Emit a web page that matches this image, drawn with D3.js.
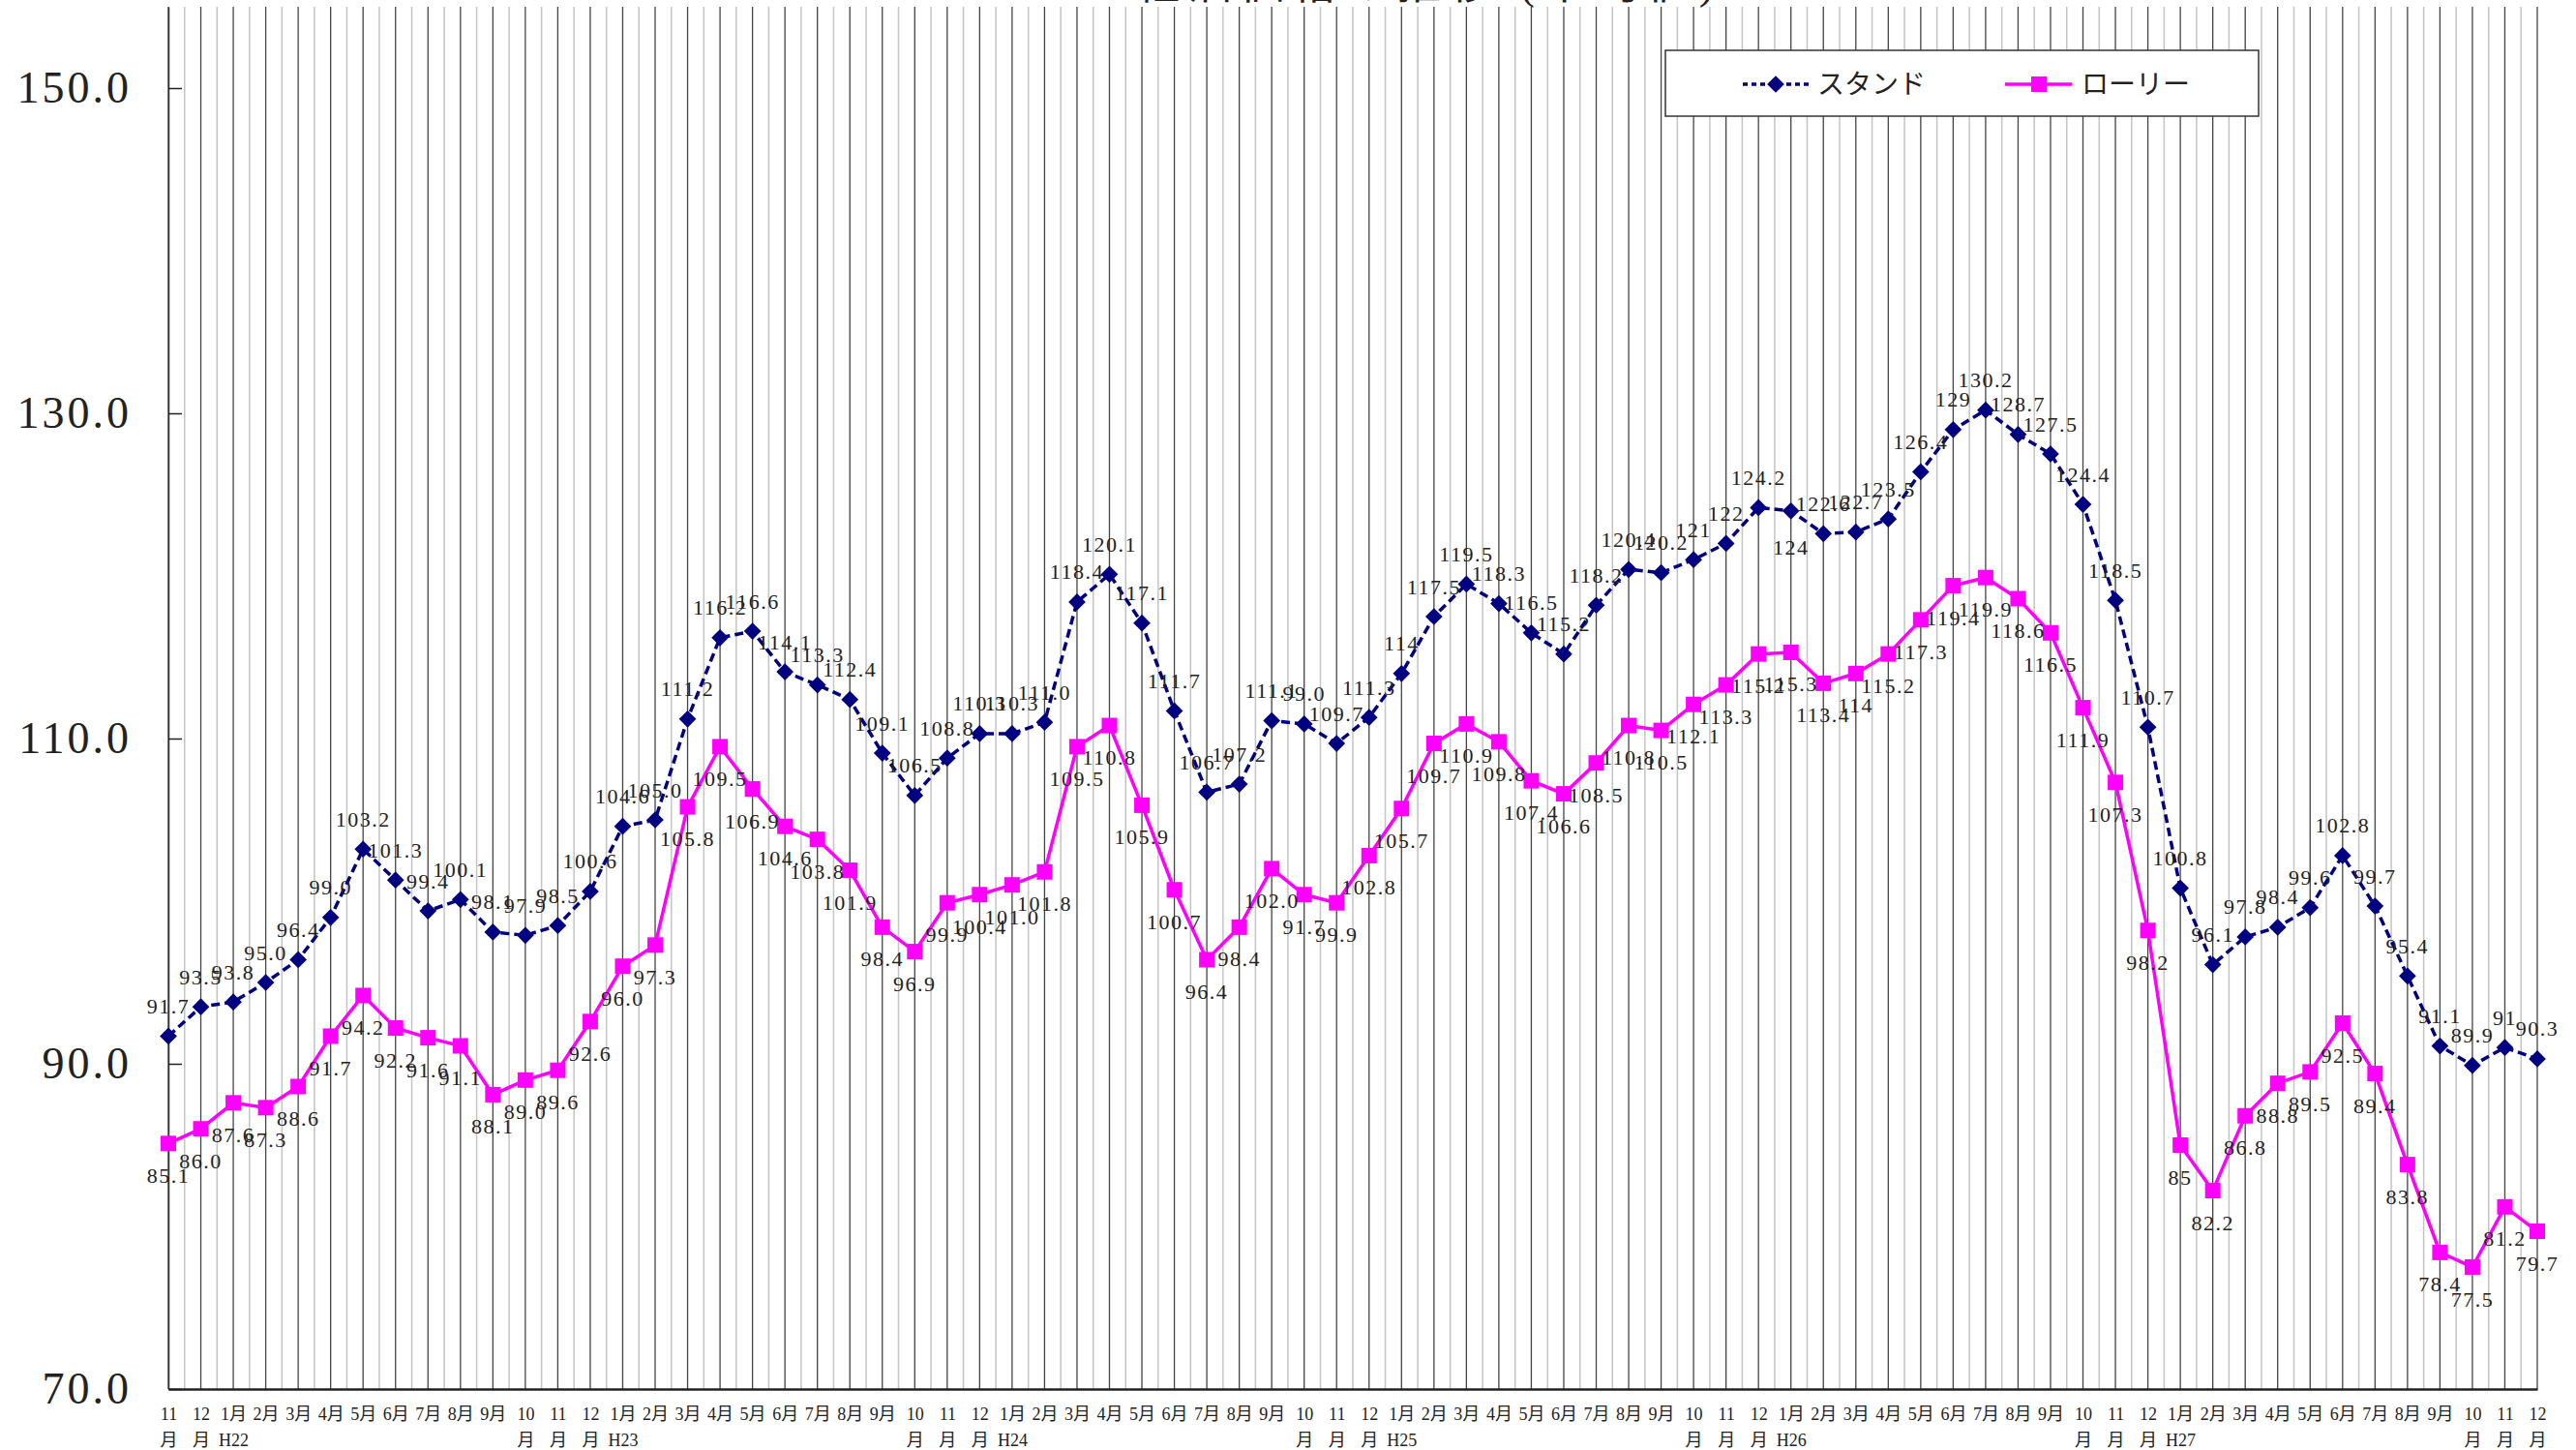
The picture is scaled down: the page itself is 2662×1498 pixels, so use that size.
<!DOCTYPE html>
<html>
<head>
<meta charset="utf-8">
<script src="https://cdn.jsdelivr.net/npm/d3@7"></script>
<style>
  html, body { margin: 0; padding: 0; background: #fff; }
  svg { display: block; }
  text { font-family: "Liberation Serif", "Noto Sans CJK JP", serif; fill: #222; }
</style>
</head>
<body>
<svg id="chart" width="2662" height="1498"></svg>
<script>
// categories (tick text, "\n" = second row)
var categories = [
    "11\n月", "12\n月",
    "1月\nH22", "2月", "3月", "4月", "5月", "6月", "7月", "8月", "9月", "10\n月", "11\n月", "12\n月",
    "1月\nH23", "2月", "3月", "4月", "5月", "6月", "7月", "8月", "9月", "10\n月", "11\n月", "12\n月",
    "1月\nH24", "2月", "3月", "4月", "5月", "6月", "7月", "8月", "9月", "10\n月", "11\n月", "12\n月",
    "1月\nH25", "2月", "3月", "4月", "5月", "6月", "7月", "8月", "9月", "10\n月", "11\n月", "12\n月",
    "1月\nH26", "2月", "3月", "4月", "5月", "6月", "7月", "8月", "9月", "10\n月", "11\n月", "12\n月",
    "1月\nH27", "2月", "3月", "4月", "5月", "6月", "7月", "8月", "9月", "10\n月", "11\n月", "12\n月"
];

var standValues = [
    91.7, 93.5,
    93.8, 95.0, 96.4, 99.0, 103.2, 101.3, 99.4, 100.1, 98.1, 97.9, 98.5, 100.6,
    104.6, 105.0, 111.2, 116.2, 116.6, 114.1, 113.3, 112.4, 109.1, 106.5, 108.8, 110.3,
    110.3, 111.0, 118.4, 120.1, 117.1, 111.7, 106.7, 107.2, 111.1, 110.9, 109.7, 111.3,
    114.0, 117.5, 119.5, 118.3, 116.5, 115.2, 118.2, 120.4, 120.2, 121.0, 122.0, 124.2,
    124.0, 122.6, 122.7, 123.5, 126.4, 129.0, 130.2, 128.7, 127.5, 124.4, 118.5, 110.7,
    100.8, 96.1, 97.8, 98.4, 99.6, 102.8, 99.7, 95.4, 91.1, 89.9, 91.0, 90.3
];
var standLabels = [
    "91.7", "93.5",
    "93.8", "95.0", "96.4", "99.0", "103.2", "101.3", "99.4", "100.1", "98.1", "97.9", "98.5", "100.6",
    "104.6", "105.0", "111.2", "116.2", "116.6", "114.1", "113.3", "112.4", "109.1", "106.5", "108.8", "110.3",
    "110.3", "111.0", "118.4", "120.1", "117.1", "111.7", "106.7", "107.2", "111.1", "99.0", "109.7", "111.3",
    "114", "117.5", "119.5", "118.3", "116.5", "115.2", "118.2", "120.4", "120.2", "121", "122", "124.2",
    "124", "122.6", "122.7", "123.5", "126.4", "129", "130.2", "128.7", "127.5", "124.4", "118.5", "110.7",
    "100.8", "96.1", "97.8", "98.4", "99.6", "102.8", "99.7", "95.4", "91.1", "89.9", "91", "90.3"
];

var lorryValues = [
    85.1, 86.0,
    87.6, 87.3, 88.6, 91.7, 94.2, 92.2, 91.6, 91.1, 88.1, 89.0, 89.6, 92.6,
    96.0, 97.3, 105.8, 109.5, 106.9, 104.6, 103.8, 101.9, 98.4, 96.9, 99.9, 100.4,
    101.0, 101.8, 109.5, 110.8, 105.9, 100.7, 96.4, 98.4, 102.0, 100.4, 99.9, 102.8,
    105.7, 109.7, 110.9, 109.8, 107.4, 106.6, 108.5, 110.8, 110.5, 112.1, 113.3, 115.2,
    115.3, 113.4, 114.0, 115.2, 117.3, 119.4, 119.9, 118.6, 116.5, 111.9, 107.3, 98.2,
    85.0, 82.2, 86.8, 88.8, 89.5, 92.5, 89.4, 83.8, 78.4, 77.5, 81.2, 79.7
];
var lorryLabels = [
    "85.1", "86.0",
    "87.6", "87.3", "88.6", "91.7", "94.2", "92.2", "91.6", "91.1", "88.1", "89.0", "89.6", "92.6",
    "96.0", "97.3", "105.8", "109.5", "106.9", "104.6", "103.8", "101.9", "98.4", "96.9", "99.9", "100.4",
    "101.0", "101.8", "109.5", "110.8", "105.9", "100.7", "96.4", "98.4", "102.0", "91.7", "99.9", "102.8",
    "105.7", "109.7", "110.9", "109.8", "107.4", "106.6", "108.5", "110.8", "110.5", "112.1", "113.3", "115.2",
    "115.3", "113.4", "114", "115.2", "117.3", "119.4", "119.9", "118.6", "116.5", "111.9", "107.3", "98.2",
    "85", "82.2", "86.8", "88.8", "89.5", "92.5", "89.4", "83.8", "78.4", "77.5", "81.2", "79.7"
];

var yTicks = [70, 90, 110, 130, 150];
var seriesNames = ["スタンド", "ローリー"];
var titleText = "軽油価格の推移 (平均値)";

var svg = d3.select('#chart');
var plotLeft = 174, plotRight = 2622, plotTop = 7, plotBottom = 1435;

var x = d3.scaleLinear().domain([0, categories.length - 1]).range([plotLeft, plotRight]);
var y = d3.scaleLinear().domain([70, 155]).range([plotBottom, plotTop]);

// title, cut off at top of the picture
svg.append('text')
    .attr('x', 1476).attr('y', -2)
    .attr('text-anchor', 'middle')
    .style('font-size', '46px')
    .style('letter-spacing', '8px')
    .text(titleText);

// minor gridlines between categories
var grid = svg.append('g');
grid.selectAll('line.minor')
    .data(d3.range(categories.length - 1))
    .enter().append('line')
    .attr('class', 'minor')
    .attr('x1', function (d) { return x(d + 0.5); })
    .attr('x2', function (d) { return x(d + 0.5); })
    .attr('y1', y(155)).attr('y2', y(70))
    .attr('stroke', '#c4c4c4').attr('stroke-width', 1.5);

// major gridlines at each category
grid.selectAll('line.major')
    .data(d3.range(categories.length))
    .enter().append('line')
    .attr('class', 'major')
    .attr('x1', function (d) { return x(d); })
    .attr('x2', function (d) { return x(d); })
    .attr('y1', y(155)).attr('y2', y(70))
    .attr('stroke', '#444').attr('stroke-width', 1.3);

// y axis
var yAxis = svg.append('g')
    .attr('transform', 'translate(' + plotLeft + ',0)')
    .call(d3.axisLeft(y).tickValues(yTicks).tickFormat(d3.format('.1f'))
        .tickSizeInner(-14).tickSizeOuter(0).tickPadding(38));
yAxis.select('.domain').attr('stroke', '#333').attr('stroke-width', 1.5);
yAxis.selectAll('.tick line').attr('stroke', '#222').attr('stroke-width', 1.5);
yAxis.selectAll('.tick text')
    .attr('fill', '#111')
    .style('font-family', '"Liberation Serif", serif')
    .style('font-size', '46px')
    .style('letter-spacing', '3px');

// x axis
var xAxis = svg.append('g')
    .attr('transform', 'translate(0,' + plotBottom + ')')
    .call(d3.axisBottom(x).tickValues(d3.range(categories.length))
        .tickFormat(function () { return ''; }).tickSize(0).tickSizeOuter(0));
xAxis.select('.domain').attr('stroke', '#222').attr('stroke-width', 2.5);
xAxis.selectAll('.tick text').each(function (i) {
    var parts = categories[i].split('\n');
    var t = d3.select(this).attr('y', 0).attr('dy', null)
        .style('font-size', '18px').attr('fill', '#222');
    parts.forEach(function (p, k) {
        t.append('tspan').attr('x', 0).attr('y', 32 + k * 27).text(p);
    });
});

// lines
var line = function (vals) {
    return d3.line()
        .x(function (d, i) { return x(i); })
        .y(function (d) { return y(d); })(vals);
};

svg.append('path')
    .attr('d', line(standValues))
    .attr('fill', 'none')
    .attr('stroke', '#000080').attr('stroke-width', 3.5)
    .attr('stroke-dasharray', '9,5');

svg.append('path')
    .attr('d', line(lorryValues))
    .attr('fill', 'none')
    .attr('stroke', '#ff00ff').attr('stroke-width', 3.5);

// markers
var diamond = d3.symbol().type(d3.symbolDiamond2).size(200);
svg.append('g').selectAll('path')
    .data(standValues)
    .enter().append('path')
    .attr('d', diamond)
    .attr('transform', function (d, i) { return 'translate(' + x(i) + ',' + y(d) + ')'; })
    .attr('fill', '#000080');

svg.append('g').selectAll('rect')
    .data(lorryValues)
    .enter().append('rect')
    .attr('x', function (d, i) { return x(i) - 8; })
    .attr('y', function (d) { return y(d) - 8; })
    .attr('width', 16).attr('height', 16)
    .attr('fill', '#ff00ff');

// data labels
var labelStyle = function (sel) {
    sel.attr('text-anchor', 'middle')
        .attr('dominant-baseline', 'central')
        .attr('fill', '#2a2a2a')
        .style('font-size', '22px')
        .style('letter-spacing', '1.5px');
};
svg.append('g').selectAll('text')
    .data(standValues)
    .enter().append('text')
    .attr('x', function (d, i) { return x(i); })
    .attr('y', function (d, i) { return y(d) + (standLabels[i] === '124' ? 38 : -31); })
    .call(labelStyle)
    .text(function (d, i) { return standLabels[i]; });

svg.append('g').selectAll('text')
    .data(lorryValues)
    .enter().append('text')
    .attr('x', function (d, i) { return x(i); })
    .attr('y', function (d) { return y(d) + 33; })
    .call(labelStyle)
    .text(function (d, i) { return lorryLabels[i]; });

// legend
var legend = svg.append('g');
legend.append('rect')
    .attr('x', 1721).attr('y', 52).attr('width', 613).attr('height', 68)
    .attr('fill', '#fff').attr('stroke', '#333').attr('stroke-width', 1.5);

legend.append('line')
    .attr('x1', 1801).attr('x2', 1870).attr('y1', 87).attr('y2', 87)
    .attr('stroke', '#000080').attr('stroke-width', 3.5).attr('stroke-dasharray', '5,4');
legend.append('path')
    .attr('d', diamond)
    .attr('transform', 'translate(1835,87)')
    .attr('fill', '#000080');
legend.append('text')
    .attr('x', 1878).attr('y', 87)
    .attr('dominant-baseline', 'central')
    .style('font-size', '28px')
    .text(seriesNames[0]);

legend.append('line')
    .attr('x1', 2072).attr('x2', 2141).attr('y1', 87).attr('y2', 87)
    .attr('stroke', '#ff00ff').attr('stroke-width', 3.5);
legend.append('rect')
    .attr('x', 2099).attr('y', 79).attr('width', 16).attr('height', 16)
    .attr('fill', '#ff00ff');
legend.append('text')
    .attr('x', 2151).attr('y', 87)
    .attr('dominant-baseline', 'central')
    .style('font-size', '28px')
    .text(seriesNames[1]);
</script>
</body>
</html>
